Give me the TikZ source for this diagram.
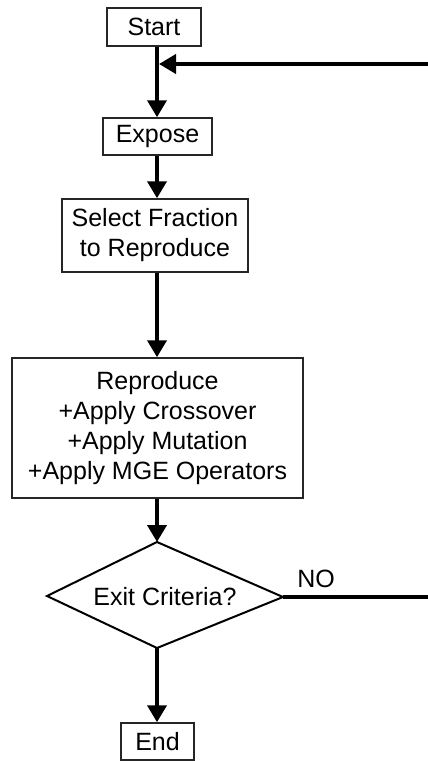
\documentclass[tikz,border=0pt]{standalone}
\usepackage{fontspec}
\setmainfont{Liberation Sans}
\usetikzlibrary{arrows.meta}
\begin{document}
\begin{tikzpicture}[x=1pt,y=-1pt,
  box/.style={draw=black!85, line width=1.5pt, inner sep=0pt, align=center, font=\fontsize{25}{30}\selectfont},
  conn/.style={line width=4pt, -{Triangle[width=19pt,length=17pt]}},
  lbl/.style={font=\fontsize{25}{30}\selectfont, inner sep=0pt}]
\clip (0,0) rectangle (428,761);
\fill[white] (0,0) rectangle (428,761);
% nodes
\node[box, minimum width=94pt, minimum height=38pt] (start) at (154,27) {Start};
\node[box, minimum width=109pt, minimum height=37pt] (expose) at (157.5,136.5) {Expose};
\node[box, minimum width=186pt, minimum height=73pt] (select) at (155,235.5) {Select Fraction\\to Reproduce};
\node[box, minimum width=291pt, minimum height=140pt] (repro) at (157.5,428) {Reproduce\\+Apply Crossover\\+Apply Mutation\\+Apply MGE Operators};
\node[box, minimum width=73pt, minimum height=37pt] (end) at (157.5,741.5) {End};
% decision diamond
\coordinate (dtop) at (157,542);
\coordinate (dright) at (283,597);
\coordinate (dbot) at (157,648);
\coordinate (dleft) at (47,596);
\draw[line width=2pt, line join=miter] (dtop) -- (dright) -- (dbot) -- (dleft) -- cycle;
\node[lbl] (exit) at (165,597) {Exit Criteria?};
\node[lbl] (no) at (316,579) {NO};
% helper coordinates
\coordinate (join) at (157,64);
\coordinate (loopR) at (445,597);
% connectors
\draw[conn] (start.south -| join) -- (expose.north -| join);
\draw[conn] (expose.south -| join) -- (select.north -| join);
\draw[conn] (select.south -| join) -- (repro.north -| join);
\draw[conn] (repro.south -| join) -- (dtop);
\draw[conn] (dbot) -- (end.north -| dbot);
\draw[conn] (dright) -- (loopR) |- ([xshift=2pt]join);
\end{tikzpicture}
\end{document}
